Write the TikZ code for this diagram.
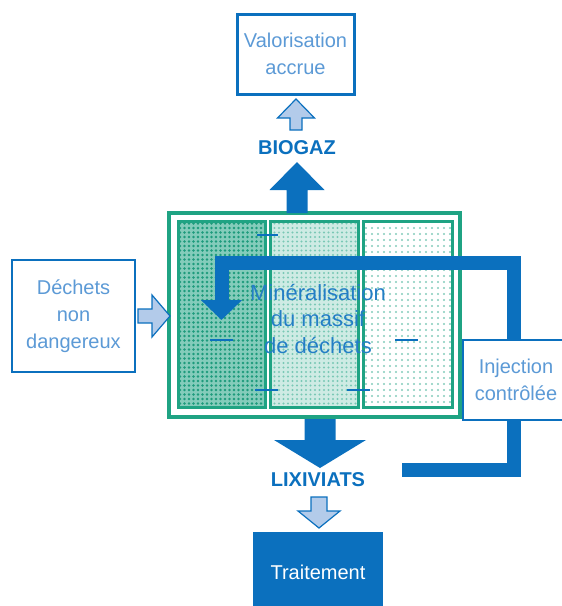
\documentclass[tikz,border=0pt]{standalone}
\usepackage{fontspec}
\setmainfont{Liberation Sans}
\usetikzlibrary{arrows.meta, positioning, calc, patterns.meta}
\definecolor{mBlue}{HTML}{0B70BE}
\definecolor{mSoftBlue}{HTML}{5C9AD6}
\definecolor{mPaleBlue}{HTML}{B3CBEA}
\definecolor{mGreen}{HTML}{1FA383}

\tikzset{
  pics/blockarrow/.style args={#1/#2/#3/#4}{code={
    \path[pic actions] (0,-#2/2) -- ({#1-#4},-#2/2) -- ({#1-#4},-#3/2) -- (#1,0)
      -- ({#1-#4},#3/2) -- ({#1-#4},#2/2) -- (0,#2/2) -- cycle;}},
  hollowarrow/.style={draw=mBlue, line width=1.2pt, fill=mPaleBlue},
  solidarrow/.style={fill=mBlue},
  infobox/.style={draw=mBlue, line width=2.5pt, fill=white, align=center, inner sep=0,
    text=mSoftBlue, font=\fontsize{20}{27}\selectfont},
  flowlabel/.style={text=mBlue, font=\fontsize{20}{24}\selectfont\bfseries},
  column/.style={draw=mGreen, line width=3pt, inner sep=0, minimum height=186pt},
  seamtick/.style={draw=mBlue, line width=2.5pt},
}

\begin{document}
\begin{tikzpicture}[x=1pt, y=-1pt]
  \useasboundingbox (0,0) rectangle (562,606);

  % massif de dechets
  \node[draw=mGreen, line width=3.5pt, minimum width=291pt, minimum height=204pt, inner sep=0] (massif) at (314.5,315) {};
  \node[column, preaction={fill=mGreen!55}, pattern={Dots[distance=4.5pt, radius=1.4pt]}, pattern color=mGreen!95!black, minimum width=87pt] (cola) at (221.5,314) {};
  \node[column, preaction={fill=mGreen!22}, pattern={Dots[distance=4.5pt, radius=1.2pt]}, pattern color=mGreen!60, minimum width=88pt] (colb) at (314,314) {};
  \node[column, preaction={fill=white}, pattern={Dots[distance=6pt, radius=1.1pt]}, pattern color=mGreen!55, minimum width=89pt] (colc) at (407.5,314) {};
  \draw[seamtick] (257,235) -- (278,235);
  \draw[seamtick] (210,340) -- (233,340);
  \draw[seamtick] (395,340) -- (418,340);
  \draw[seamtick] (255,390) -- (278,390);
  \draw[seamtick] (347,390) -- (370,390);
  \node[align=center, text=mBlue!90, font=\fontsize{22}{26.5}\selectfont] (miner) at (318,319) {Minéralisation\\du massif\\de déchets};

  % entrees et sorties
  \node[infobox, line width=3pt, minimum width=117pt, minimum height=80pt] (valo) at (295.5,54) {Valorisation\\accrue};
  \node[infobox, minimum width=123pt, minimum height=112pt] (dechets) at (73.5,316) {Déchets\\non\\dangereux};
  \node[flowlabel] (biogaz) at (297,148) {BIOGAZ};
  \node[flowlabel] (lixiviats) at (318,480) {LIXIVIATS};
  \node[fill=mBlue, text=white, inner sep=0, minimum width=130pt, minimum height=80pt,
    font=\fontsize{20}{24}\selectfont] (trait) at (318,572) {Traitement};

  \pic[hollowarrow, rotate=90] at (296,130) {blockarrow=31/12/37/19};
  \pic[solidarrow, rotate=90] at (297,213) {blockarrow=51/21/55/28};
  \pic[solidarrow, rotate=-90] at (320,419) {blockarrow=49/31/92/28};
  \pic[hollowarrow, rotate=-90] at (319,497) {blockarrow=31/16/42/17};
  \pic[hollowarrow] at (138,316) {blockarrow=32/14/42/18};

  % recirculation des lixiviats
  \coordinate (recirc) at (402,470);
  \coordinate (entry) at (221.5,320);
  \draw[mBlue, line width=14pt, line join=miter, -{Triangle[width=40pt, length=20pt]}]
    (recirc) -| (513.5,263) -| (entry);
  \node[infobox, minimum width=106pt, minimum height=80pt] (inject) at (516,380) {Injection\\contrôlée};
\end{tikzpicture}
\end{document}
